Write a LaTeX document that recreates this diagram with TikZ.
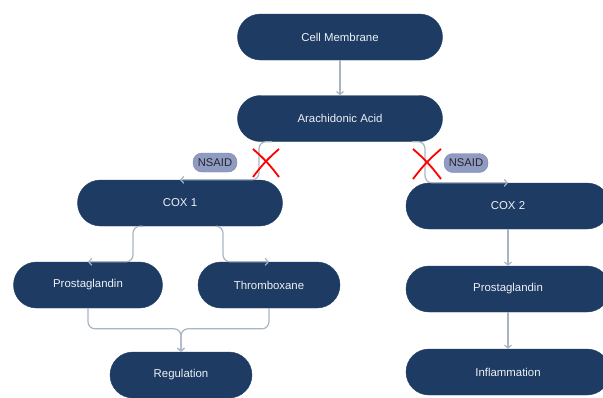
\documentclass[tikz,border=0pt]{standalone}
\usepackage{fontspec}
\setmainfont{Liberation Sans}
\usetikzlibrary{arrows.meta}
\definecolor{navy}{HTML}{1D3B63}
\definecolor{conn}{HTML}{A9B5C3}
\definecolor{pill}{HTML}{8F9BC3}
\definecolor{txt}{HTML}{EEF1F5}
\tikzset{
  box/.style={draw=navy, fill=navy, rounded corners=23pt, minimum height=46pt, inner sep=0pt,
    text=txt, font=\fontsize{11.4}{13}\selectfont},
  pillbox/.style={draw=pill!85!black, fill=pill, rounded corners=9pt, minimum height=19pt, minimum width=44pt,
    inner sep=0pt, text=black!85, font=\fontsize{11.2}{13}\selectfont},
  link/.style={draw=conn, line width=1.2pt, rounded corners=7pt, -{Straight Barb[length=3pt,width=7pt]}},
  cross/.style={draw=red, line width=1.8pt}
}
\begin{document}
\begin{tikzpicture}[x=1pt,y=-1pt]
\useasboundingbox (0,0) rectangle (603,397);
\clip (0,0) rectangle (603,397);
\node[box, minimum width=205pt] (cm) at (340,37) {Cell Membrane};
\node[box, minimum width=205pt] (aa) at (340,118.5) {Arachidonic Acid};
\node[box, minimum width=205pt] (cox1) at (180,203) {COX 1};
\node[box, minimum width=204pt] (cox2) at (508,206) {COX 2};
\node[box, minimum width=149pt] (pgl) at (88,285) {Prostaglandin};
\node[box, minimum width=142pt] (thx) at (269,285) {Thromboxane};
\node[box, minimum width=142pt] (reg) at (181,375) {Regulation};
\node[box, minimum width=204pt] (pgr) at (508,289) {Prostaglandin};
\node[box, minimum width=204pt] (inf) at (508,372) {Inflammation};
\node[pillbox] (n1) at (215,162.5) {NSAID};
\node[pillbox] (n2) at (466,163) {NSAID};

\draw[link] (cm.south) -- (aa.north);
\draw[link] ([xshift=-68pt]aa.south) -| ([xshift=79pt]cox1.north) -- (cox1.north);
\draw[link] ([xshift=72pt]aa.south) -| ([xshift=-83pt]cox2.north) -- (cox2.north);
\draw[link] ([xshift=-37pt]cox1.south) -| ([xshift=45pt]pgl.north) -- (pgl.north);
\draw[link] ([xshift=37pt]cox1.south) -| ([xshift=-46pt]thx.north) -- (thx.north);
\coordinate (mg) at ([yshift=23pt]reg.north);
\draw[link] (pgl.south) |- (mg) -- (reg.north);
\draw[link] (thx.south) |- (mg) -- (reg.north);
\draw[link] (cox2.south) -- (pgr.north);
\draw[link] (pgr.south) -- (inf.north);

\draw[cross] (253,149) to[bend left=6] (279,177);
\draw[cross] (279,149) to[bend right=6] (253,177);
\draw[cross] (413,149) to[bend left=6] (441,179);
\draw[cross] (441,149) to[bend right=6] (413,179);
\end{tikzpicture}
\end{document}
